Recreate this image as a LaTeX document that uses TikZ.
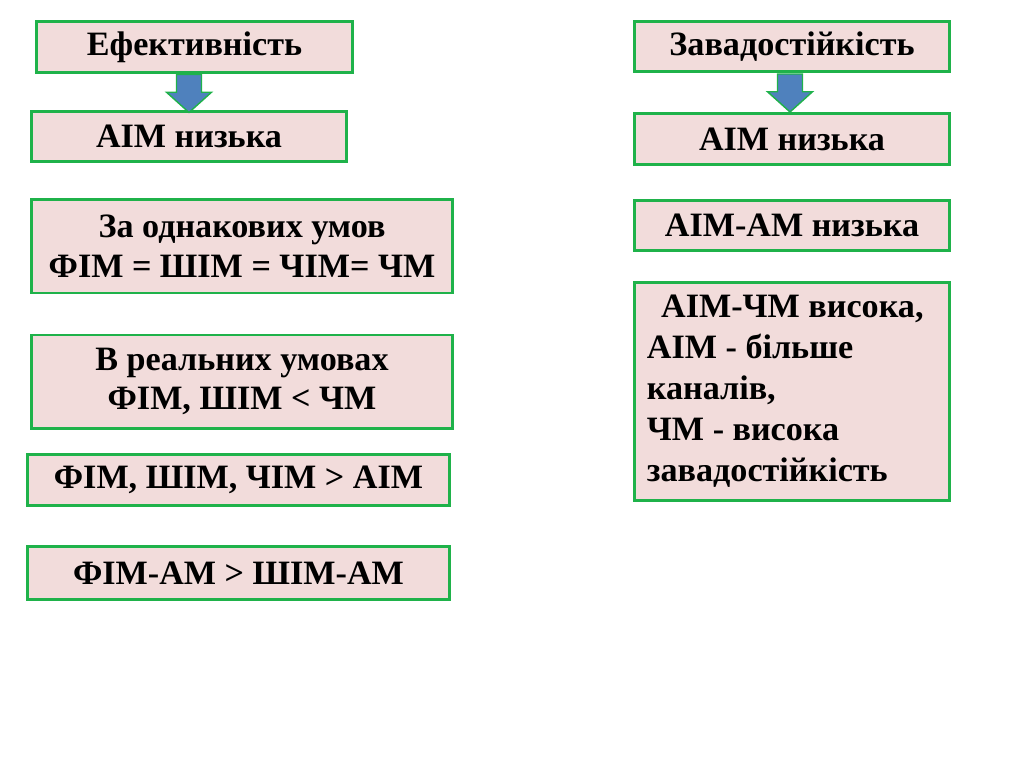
\documentclass[tikz,border=0pt]{standalone}
\usepackage{fontspec}
\setmainfont{Liberation Serif}
\usepackage{tikz}
\usetikzlibrary{positioning,calc,shapes.arrows}
\definecolor{SlabFill}{HTML}{F2DCDB}
\definecolor{SlabLine}{HTML}{1FB24A}
\definecolor{BarBlue}{HTML}{4F81BD}

\begin{document}
\begin{tikzpicture}[
  x=0.703125pt, y=-0.703125pt,
  font=\fontsize{24}{28}\selectfont\bfseries,
  slab/.style={draw=SlabLine,line width=2.1pt,fill=SlabFill,align=center,
               inner sep=2pt,minimum width=222pt,minimum height=35.6pt},
  wide/.style={slab,minimum width=296.5pt},
  bar/.style={shape=single arrow,draw=SlabLine,line width=1pt,fill=BarBlue,
              shape border rotate=270,inner sep=8.3pt,minimum height=26.7pt,
              single arrow head extend=7pt,single arrow tip angle=96,anchor=tail},
]
\useasboundingbox (0,0) rectangle (1024,768);

% left column
\node[slab] (eff)  at (194.5,47)  {Ефективність};
\node[slab] (ain1) at (189,136.5) {АІМ низька};
\node[wide,minimum height=65.4pt] (same) at (242,246.5) {За однакових умов\\ФІМ = ШІМ = ЧІМ= ЧМ};
\node[wide,minimum height=65.4pt] (real) at (242,381.5) {В реальних умовах\\ФІМ, ШІМ < ЧМ};
\node[wide] (gt) at (238.5,480) {ФІМ, ШІМ, ЧІМ > АІМ};
\node[wide,minimum height=36.6pt] (fam) at (238.5,573) {ФІМ-АМ > ШІМ-АМ};

% right column
\node[slab] (noise) at (792,46.5)  {Завадостійкість};
\node[slab] (ain2)  at (792,139)   {АІМ низька};
\node[slab] (aiam)  at (792,225.5) {АІМ-АМ низька};
\node[slab,minimum height=152.6pt,text width=204pt,align=flush left,
      inner xsep=8pt,font=\fontsize{24}{28.8}\selectfont\bfseries] (aifm) at (792,391.5)
  {\hspace*{10pt}АІМ-ЧМ висока,\\АІМ - більше\\каналів,\\ЧМ - висока\\завадостійкість};

% block arrows
\node[bar] (a1) at (ain1 |- eff.south) {};
\node[bar] (a2) at ($(noise.south)+(-2,0)$) {};
\end{tikzpicture}
\end{document}
